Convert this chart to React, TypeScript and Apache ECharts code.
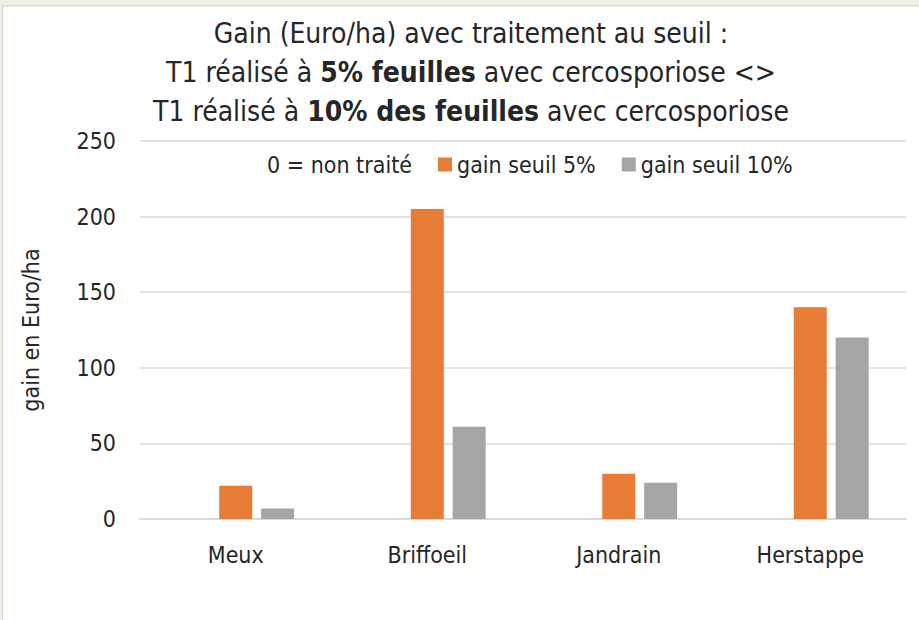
import React, { useEffect, useRef } from "react";
import * as echarts from "echarts";

const categories = ["Meux", "Briffoeil", "Jandrain", "Herstappe"];
const seriesNames = ["0 = non traité", "gain seuil 5%", "gain seuil 10%"];
const nonTraite = [0, 0, 0, 0];
const gain5 = [22, 205, 30, 140];
const gain10 = [7, 61, 24, 120];
const yTicks = { min: 0, max: 250, interval: 50 };

const FONT = "'Liberation Sans Narrow', 'DejaVu Sans Condensed', sans-serif";
const TXT = "#262626";

export default function App() {
  const ref = useRef<HTMLDivElement>(null);
  useEffect(() => {
    document.body.style.margin = "0";
    if (!ref.current) return;
    const chart = echarts.init(ref.current, undefined, { renderer: "svg" });
    chart.setOption({
      animation: false,
      backgroundColor: "#ffffff",
      textStyle: { fontFamily: FONT, color: TXT },
      title: {
        text:
          "{n|Gain (Euro/ha) avec traitement au seuil :}\n" +
          "{n|T1 réalisé à }{b|5% feuilles}{n| avec cercosporiose <>}\n" +
          "{n|T1 réalisé à }{b|10% des feuilles}{n| avec cercosporiose}",
        left: 466,
        top: 9,
        textAlign: "center",
        textStyle: {
          fontWeight: "normal",
          fontFamily: FONT,
          fontSize: 28,
          color: TXT,
          rich: {
            n: { fontFamily: FONT, fontSize: 28, color: TXT, lineHeight: 39, fontWeight: "normal" },
            b: { fontFamily: FONT, fontSize: 28, color: TXT, lineHeight: 39, fontWeight: "bold" },
          },
        },
      },
      legend: {
        data: seriesNames,
        left: 243,
        top: 148,
        itemWidth: 14,
        itemHeight: 14,
        itemGap: 26,
        icon: "rect",
        textStyle: { fontFamily: FONT, fontSize: 23, color: TXT },
      },
      grid: { left: 140, right: 13, top: 141, bottom: 101 },
      xAxis: {
        type: "category",
        data: categories,
        axisLine: { lineStyle: { color: "#d9d9d9", width: 2 } },
        axisTick: { show: false },
        axisLabel: { fontFamily: FONT, fontSize: 23, color: TXT, margin: 24 },
      },
      yAxis: {
        type: "value",
        min: yTicks.min,
        max: yTicks.max,
        interval: yTicks.interval,
        name: "gain en Euro/ha",
        nameLocation: "middle",
        nameGap: 98,
        nameTextStyle: { fontFamily: FONT, fontSize: 23, color: TXT },
        axisLine: { show: false },
        axisTick: { show: false },
        axisLabel: { fontFamily: FONT, fontSize: 23, color: TXT, margin: 24 },
        splitLine: { lineStyle: { color: "#d9d9d9", width: 1.5 } },
      },
      graphic: [
        { type: "rect", shape: { x: 0, y: 0, width: 919, height: 5 }, style: { fill: "#eef2e2" } },
        { type: "rect", shape: { x: 0, y: 5, width: 919, height: 1.5 }, style: { fill: "#d8d8d8" } },
        { type: "rect", shape: { x: 0, y: 0, width: 2, height: 620 }, style: { fill: "#eef2e2" } },
        { type: "rect", shape: { x: 2, y: 5, width: 1.2, height: 615 }, style: { fill: "#d8d8d8" } },
      ],
      series: [
        {
          name: seriesNames[0],
          type: "bar",
          data: nonTraite,
          barWidth: 33,
          barGap: "27%",
          itemStyle: { color: "#ffffff" },
        },
        {
          name: seriesNames[1],
          type: "bar",
          data: gain5,
          barWidth: 33,
          barGap: "27%",
          itemStyle: { color: "#e67c35" },
        },
        {
          name: seriesNames[2],
          type: "bar",
          data: gain10,
          barWidth: 33,
          barGap: "27%",
          itemStyle: { color: "#a5a5a5" },
        },
      ],
    });
    return () => chart.dispose();
  }, []);
  return <div ref={ref} style={{ width: 919, height: 620 }} />;
}
